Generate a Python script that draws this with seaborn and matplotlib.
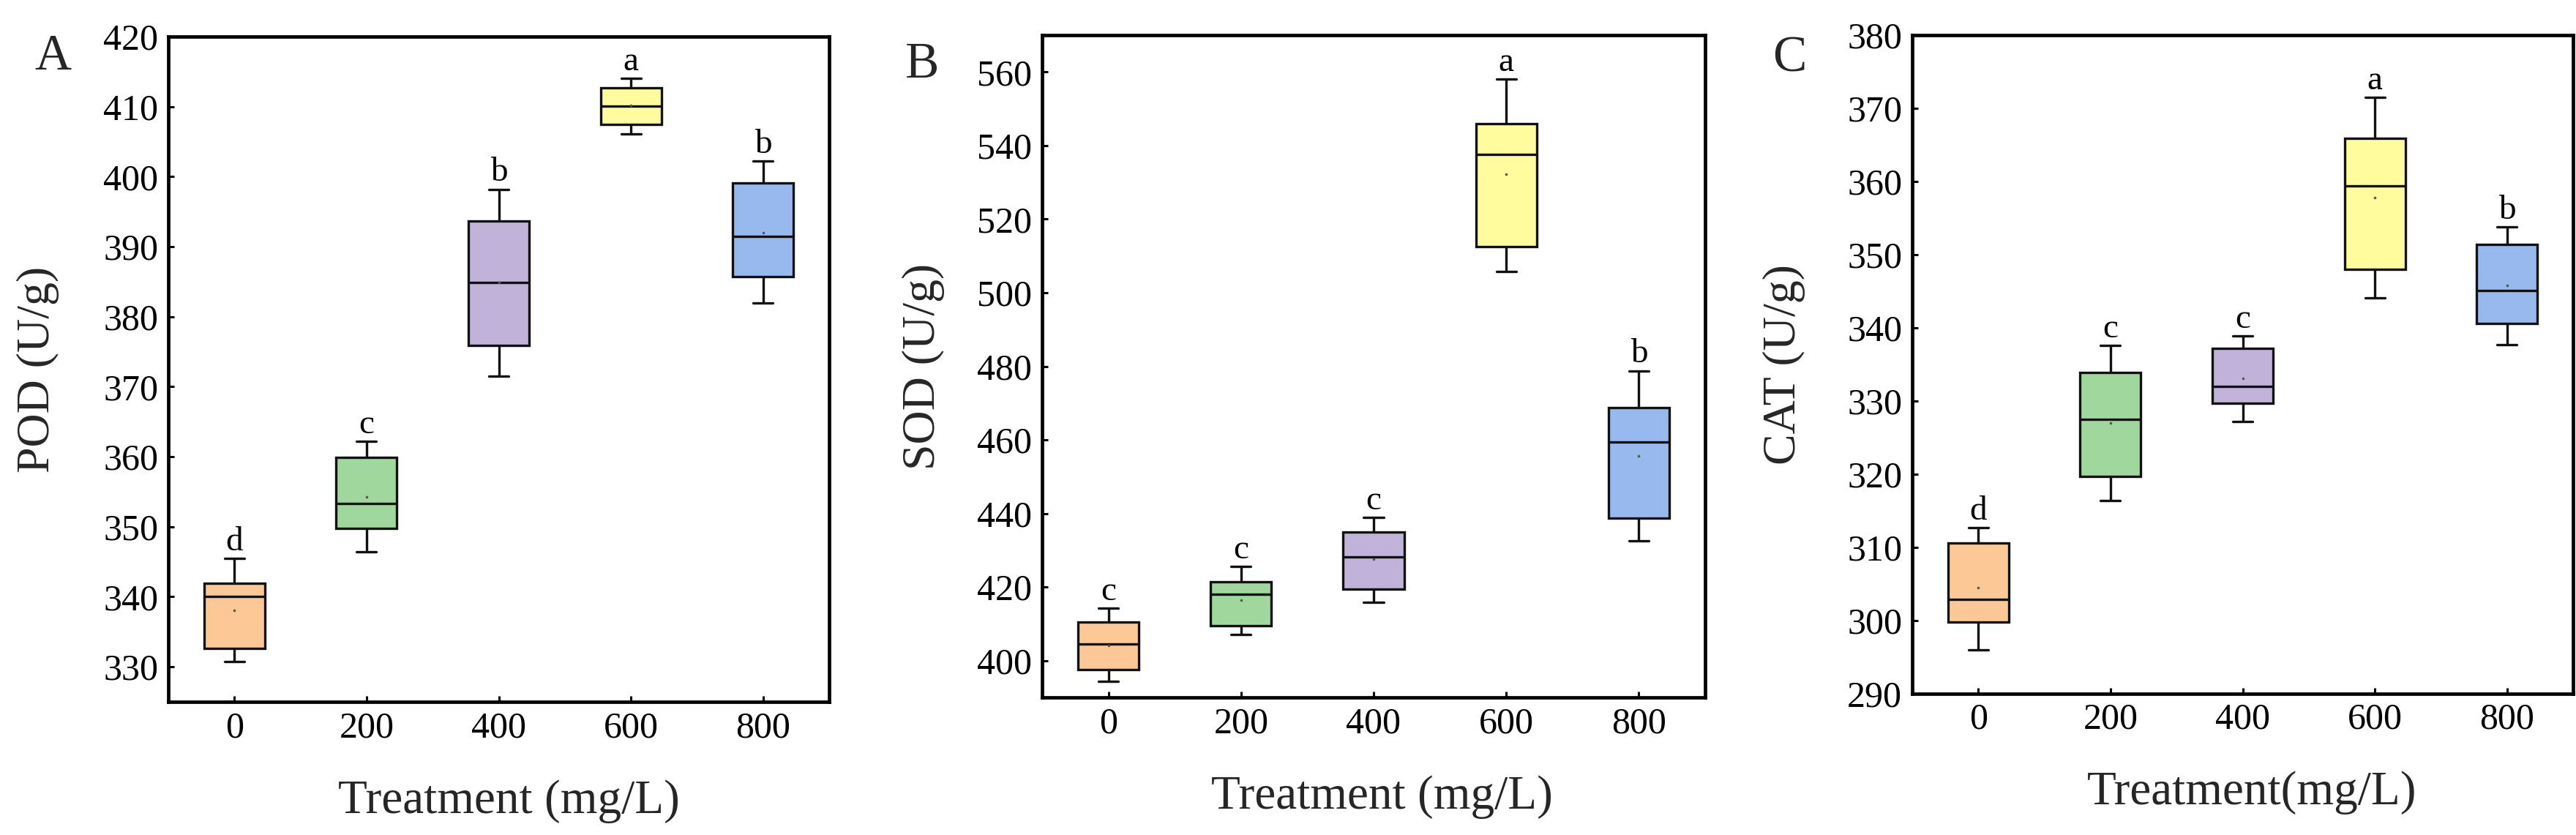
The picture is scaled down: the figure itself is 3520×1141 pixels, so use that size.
import numpy as np
import pandas as pd
import matplotlib
matplotlib.use("Agg")
import matplotlib.pyplot as plt
import seaborn as sns

# ---------------- data ----------------
treatments = ["0", "200", "400", "600", "800"]
box_colors = ["#FBC896", "#9FD79D", "#C1B2D9", "#FFFC9D", "#98B9EE"]

# POD (panel A)
pod_low = [330.8, 346.4, 371.5, 406.1, 382.0]
pod_q1 = [332.6, 349.8, 375.9, 407.5, 385.7]
pod_med = [340.0, 353.3, 384.9, 410.1, 391.5]
pod_q3 = [341.9, 359.9, 393.7, 412.7, 399.1]
pod_high = [345.5, 362.2, 398.2, 414.0, 402.2]
pod_mean = [338.1, 354.3, 384.9, 410.2, 392.0]
pod_letters = ["d", "c", "b", "a", "b"]
pod_ticks = [330, 340, 350, 360, 370, 380, 390, 400, 410, 420]

# SOD (panel B)
sod_low = [394.3, 407.2, 415.9, 505.8, 432.6]
sod_q1 = [397.5, 409.4, 419.5, 512.5, 438.7]
sod_med = [404.6, 418.1, 428.1, 537.6, 459.4]
sod_q3 = [410.5, 421.4, 434.9, 546.0, 468.8]
sod_high = [414.2, 425.6, 439.0, 558.1, 478.8]
sod_mean = [404.1, 416.4, 427.5, 532.2, 455.7]
sod_letters = ["c", "c", "c", "a", "b"]
sod_ticks = [400, 420, 440, 460, 480, 500, 520, 540, 560]

# CAT (panel C)
cat_low = [296.0, 316.4, 327.2, 344.1, 337.7]
cat_q1 = [299.8, 319.7, 329.7, 348.0, 340.6]
cat_med = [302.9, 327.5, 332.0, 359.4, 345.1]
cat_q3 = [310.6, 333.9, 337.2, 365.9, 351.4]
cat_high = [312.7, 337.6, 338.9, 371.5, 353.8]
cat_mean = [304.5, 327.0, 333.1, 357.8, 345.8]
cat_letters = ["d", "c", "c", "a", "b"]
cat_ticks = [290, 300, 310, 320, 330, 340, 350, 360, 370, 380]

# ---------------- style ----------------
sns.set_style("ticks")
plt.rcParams["font.family"] = ["Liberation Serif", "DejaVu Serif"]
plt.rcParams["mathtext.fontset"] = "stix"

W, H = 3520, 1141
fig = plt.figure(figsize=(W / 100, H / 100), dpi=100)

# axes boxes in pixels: left, right, top, bottom
boxes = [(230, 1133, 50, 959), (1424, 2330, 48, 953), (2613, 3516, 48, 948)]


def make_ax(b):
    l, r, t, bt = b
    return fig.add_axes([l / W, 1 - bt / H, (r - l) / W, (bt - t) / H])


def panel(ax, low, q1, med, q3, high, mean, letters, ylim, yticks,
          ylabel, xlabel, ylab_x, xlab_x):
    values = np.column_stack([low, q1, med, q3, high]).ravel()
    df = pd.DataFrame({"Treatment": np.repeat(treatments, 5), "value": values})
    sns.boxplot(data=df, x="Treatment", y="value", hue="Treatment",
                order=treatments, hue_order=treatments, palette=box_colors,
                saturation=1, legend=False, width=0.46, whis=(0, 100),
                showfliers=False, linecolor="#111111", linewidth=2.4,
                capwidths=0.15, ax=ax)
    sns.stripplot(x=treatments, y=mean, order=treatments, jitter=False,
                  color="#555555", size=2.6, linewidth=0, ax=ax, zorder=5)
    for i, (lt, hv) in enumerate(zip(letters, high)):
        ax.annotate(lt, xy=(i, hv), xytext=(0, 8), textcoords="offset points",
                    ha="center", va="baseline", fontsize=34, color="black")
    ax.set_xlim(-0.5, 4.5)
    ax.set_ylim(*ylim)
    ax.set_yticks(yticks)
    ax.set_xticks(range(len(treatments)))
    ax.set_xticklabels(treatments)
    ax.tick_params(axis="both", direction="in", length=6, width=2.2,
                   labelsize=36, colors="black", top=False, right=False)
    ax.tick_params(axis="y", pad=10)
    ax.tick_params(axis="x", pad=9)
    for s in ax.spines.values():
        s.set_visible(True)
        s.set_linewidth(3.4)
        s.set_color("black")
    ax.set_xlabel(xlabel, fontsize=47)
    ax.set_ylabel(ylabel, fontsize=46)
    ax.xaxis.set_label_coords(xlab_x, -0.117)
    ax.yaxis.set_label_coords(ylab_x, 0.5)


axA = make_ax(boxes[0])
panel(axA, pod_low, pod_q1, pod_med, pod_q3, pod_high, pod_mean, pod_letters,
      (325, 420), pod_ticks, "POD (U/g)", "Treatment (mg/L)", -0.165, 0.515)
axB = make_ax(boxes[1])
panel(axB, sod_low, sod_q1, sod_med, sod_q3, sod_high, sod_mean, sod_letters,
      (390, 570), sod_ticks, "SOD (U/g)", "Treatment (mg/L)", -0.147, 0.513)
axC = make_ax(boxes[2])
panel(axC, cat_low, cat_q1, cat_med, cat_q3, cat_high, cat_mean, cat_letters,
      (290, 380), cat_ticks, "CAT (U/g)", "Treatment(mg/L)", -0.162, 0.514)

# panel letters
for lt, (px, py) in zip(["A", "B", "C"], [(47, 95), (1237, 106), (2422, 98)]):
    fig.text(px / W, 1 - py / H, lt, fontsize=50, ha="left", va="baseline")

fig.savefig("out.png", dpi=100, facecolor="white")
